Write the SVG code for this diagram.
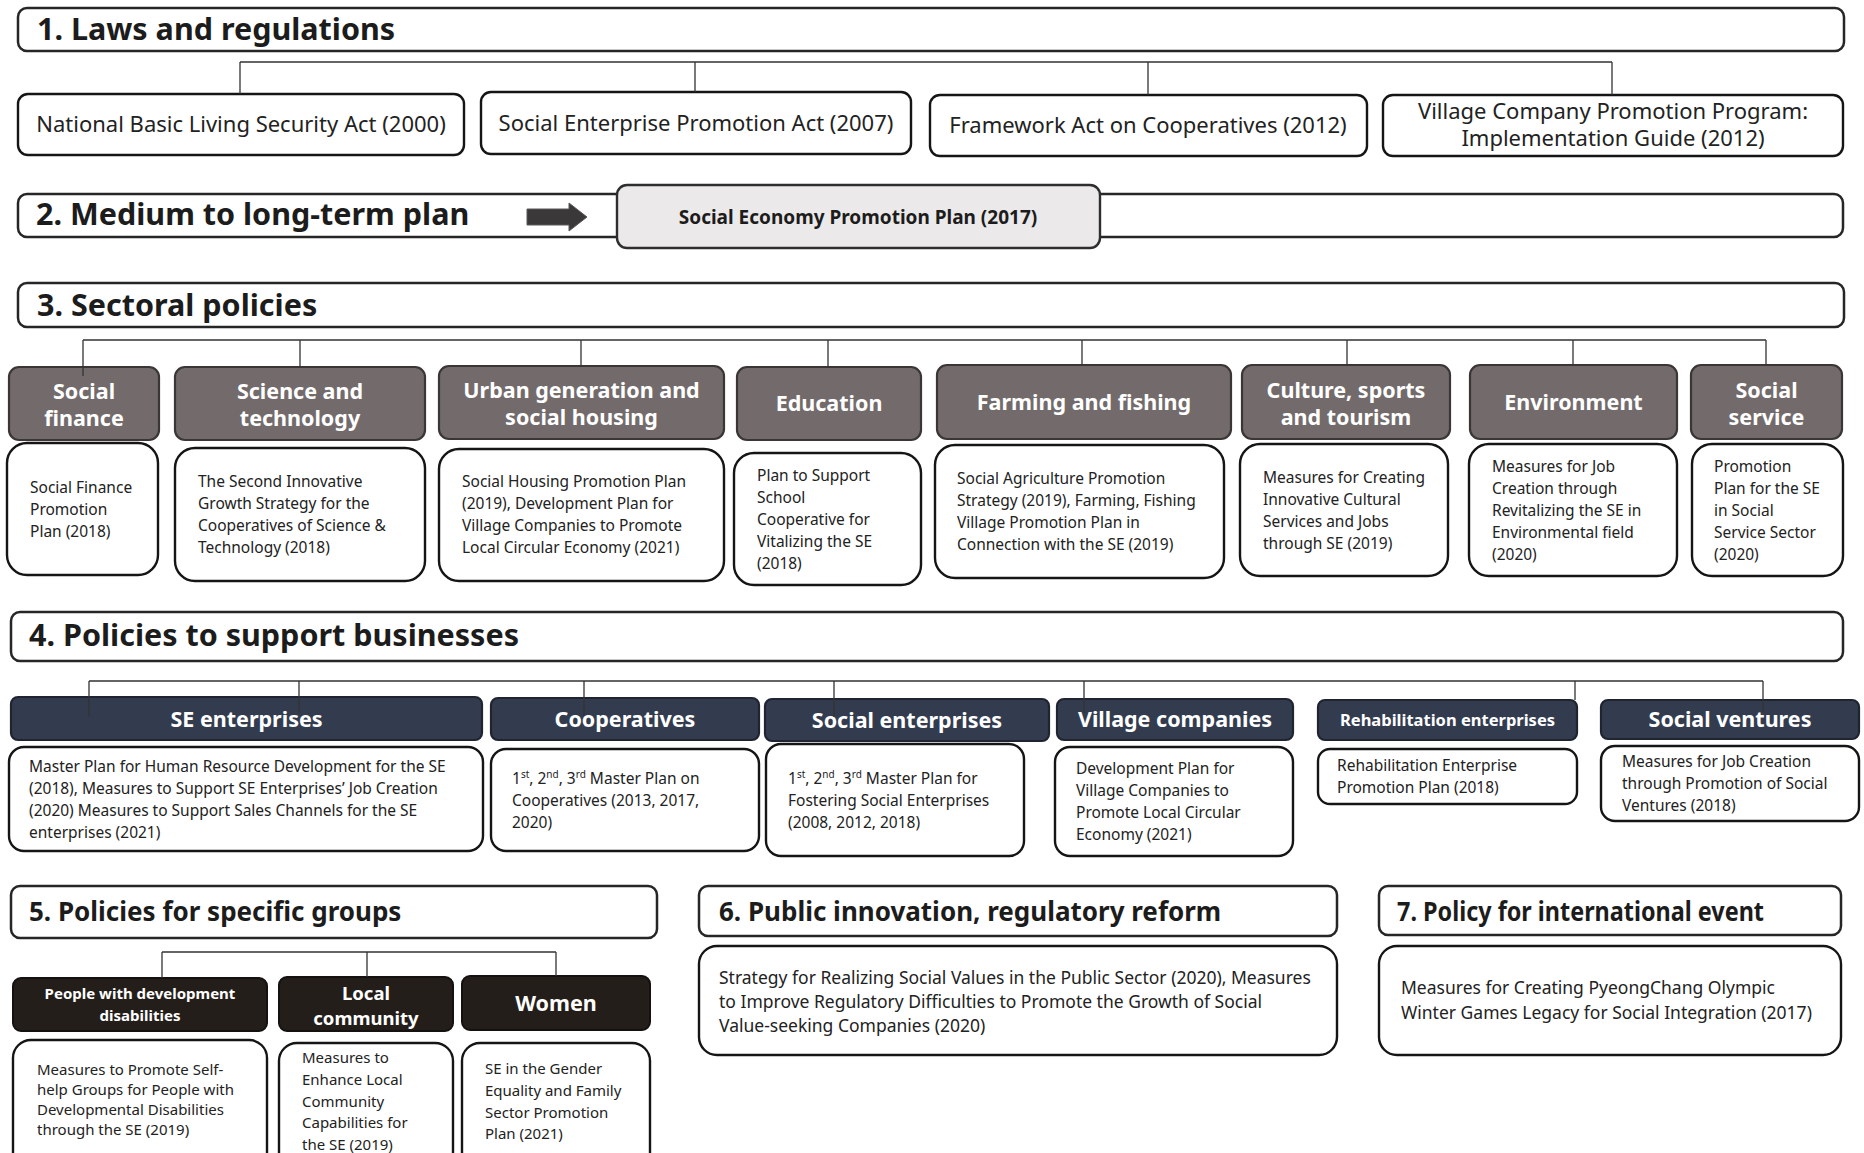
<svg xmlns="http://www.w3.org/2000/svg" width="1864" height="1153" viewBox="0 0 1864 1153">
  <style>
    text { font-family: "Noto Sans", "Open Sans", sans-serif; fill: #1c1c1c; }
    .sec { fill: #fff; stroke: #262626; stroke-width: 2.5; }
    .box { fill: #fff; stroke: #151515; stroke-width: 2.4; }
    .gray { fill: #736b6b; stroke: #3b3636; stroke-width: 2.2; }
    .navy { fill: #333c4f; stroke: #1f2430; stroke-width: 2.2; }
    .dark { fill: #241e1a; stroke: #141110; stroke-width: 2; }
    .plan { fill: #ebe9e9; stroke: #2e2e2e; stroke-width: 2.4; }
    .ttl { font-size: 30.5px; font-weight: 700; }
    .ttl2 { font-size: 26px; font-weight: 700; }
    .law { font-size: 22px; text-anchor: middle; fill: #222; }
    .hd { font-size: 21.5px; font-weight: 700; fill: #fff; text-anchor: middle; }
    .hd-s { font-size: 16.5px; }
    .hd-xs { font-size: 15px; }
    .hd-m { font-size: 18.5px; }
    .tx { font-size: 15.5px; fill: #222; }
    .tx5 { font-size: 15px; fill: #222; }
    .tx6 { font-size: 17.5px; fill: #222; }
    .ln { fill: none; stroke: #333; stroke-width: 1.3; }
  </style>

  <!-- 1. Laws and regulations -->
  <g id="sec1">
    <rect class="sec" x="18" y="8" width="1826" height="43" rx="9"/>
    <text class="ttl" x="37" y="40">1. Laws and regulations</text>
  </g>
  <g id="law-basic-living">
    <rect class="box" x="18" y="94" width="446" height="61" rx="10"/>
    <text class="law" x="241" y="132">National Basic Living Security Act (2000)</text>
  </g>
  <g id="law-social-enterprise">
    <rect class="box" x="481" y="92" width="430" height="62" rx="10"/>
    <text class="law" x="696" y="131">Social Enterprise Promotion Act (2007)</text>
  </g>
  <g id="law-cooperatives">
    <rect class="box" x="930" y="95" width="437" height="61" rx="10"/>
    <text class="law" x="1148" y="133">Framework Act on Cooperatives (2012)</text>
  </g>
  <g id="law-village-company">
    <rect class="box" x="1383" y="95" width="460" height="61" rx="10"/>
    <text class="law" x="1613" y="119">Village Company Promotion Program:</text>
    <text class="law" x="1613" y="146">Implementation Guide (2012)</text>
  </g>

  <!-- 2. Medium to long-term plan -->
  <g id="sec2">
    <rect class="sec" x="18" y="194" width="1825" height="43" rx="9"/>
    <text class="ttl" x="36" y="225">2. Medium to long-term plan</text>
    <path d="M527 209 H569 V203 L587 217 L569 231 V225 H527 Z" fill="#3a3838" stroke="#5a5858" stroke-width="1"/>
  </g>
  <g id="plan-2017">
    <rect class="plan" x="617" y="185" width="483" height="63" rx="10"/>
    <text x="858" y="224" font-size="19" font-weight="700" text-anchor="middle">Social Economy Promotion Plan (2017)</text>
  </g>

  <!-- 3. Sectoral policies -->
  <g id="sec3">
    <rect class="sec" x="18" y="283" width="1826" height="44" rx="9"/>
    <text class="ttl" x="37" y="316">3. Sectoral policies</text>
  </g>
  <g id="sector-social-finance">
    <rect class="gray" x="9" y="367" width="150" height="73" rx="10"/>
    <text class="hd" x="84" y="399">Social</text>
    <text class="hd" x="84" y="426">finance</text>
    <rect class="box" x="7" y="443" width="151" height="132" rx="20"/>
    <text class="tx" x="30" y="493">Social Finance</text>
    <text class="tx" x="30" y="515">Promotion</text>
    <text class="tx" x="30" y="537">Plan (2018)</text>
  </g>
  <g id="sector-science">
    <rect class="gray" x="175" y="367" width="250" height="73" rx="10"/>
    <text class="hd" x="300" y="399">Science and</text>
    <text class="hd" x="300" y="426">technology</text>
    <rect class="box" x="175" y="448" width="250" height="133" rx="20"/>
    <text class="tx" x="198" y="487">The Second Innovative</text>
    <text class="tx" x="198" y="509">Growth Strategy for the</text>
    <text class="tx" x="198" y="531">Cooperatives of Science &amp;</text>
    <text class="tx" x="198" y="553">Technology (2018)</text>
  </g>
  <g id="sector-urban">
    <rect class="gray" x="439" y="366" width="285" height="73" rx="10"/>
    <text class="hd" x="581.5" y="398">Urban generation and</text>
    <text class="hd" x="581.5" y="425">social housing</text>
    <rect class="box" x="439" y="449" width="285" height="132" rx="20"/>
    <text class="tx" x="462" y="487">Social Housing Promotion Plan</text>
    <text class="tx" x="462" y="509">(2019), Development Plan for</text>
    <text class="tx" x="462" y="531">Village Companies to Promote</text>
    <text class="tx" x="462" y="553">Local Circular Economy (2021)</text>
  </g>
  <g id="sector-education">
    <rect class="gray" x="737" y="367" width="184" height="73" rx="10"/>
    <text class="hd" x="829" y="411">Education</text>
    <rect class="box" x="734" y="453" width="187" height="132" rx="20"/>
    <text class="tx" x="757" y="481">Plan to Support</text>
    <text class="tx" x="757" y="503">School</text>
    <text class="tx" x="757" y="525">Cooperative for</text>
    <text class="tx" x="757" y="547">Vitalizing the SE</text>
    <text class="tx" x="757" y="569">(2018)</text>
  </g>
  <g id="sector-farming">
    <rect class="gray" x="937" y="365" width="294" height="74" rx="10"/>
    <text class="hd" x="1084" y="410">Farming and fishing</text>
    <rect class="box" x="935" y="445" width="289" height="133" rx="20"/>
    <text class="tx" x="957" y="484">Social Agriculture Promotion</text>
    <text class="tx" x="957" y="506">Strategy (2019), Farming, Fishing</text>
    <text class="tx" x="957" y="528">Village Promotion Plan in</text>
    <text class="tx" x="957" y="550">Connection with the SE (2019)</text>
  </g>
  <g id="sector-culture">
    <rect class="gray" x="1242" y="365" width="208" height="74" rx="10"/>
    <text class="hd" x="1346" y="398">Culture, sports</text>
    <text class="hd" x="1346" y="425">and tourism</text>
    <rect class="box" x="1240" y="444" width="208" height="132" rx="20"/>
    <text class="tx" x="1263" y="483">Measures for Creating</text>
    <text class="tx" x="1263" y="505">Innovative Cultural</text>
    <text class="tx" x="1263" y="527">Services and Jobs</text>
    <text class="tx" x="1263" y="549">through SE (2019)</text>
  </g>
  <g id="sector-environment">
    <rect class="gray" x="1470" y="365" width="207" height="74" rx="10"/>
    <text class="hd" x="1573.5" y="410">Environment</text>
    <rect class="box" x="1469" y="444" width="208" height="132" rx="20"/>
    <text class="tx" x="1492" y="472">Measures for Job</text>
    <text class="tx" x="1492" y="494">Creation through</text>
    <text class="tx" x="1492" y="516">Revitalizing the SE in</text>
    <text class="tx" x="1492" y="538">Environmental field</text>
    <text class="tx" x="1492" y="560">(2020)</text>
  </g>
  <g id="sector-social-service">
    <rect class="gray" x="1691" y="365" width="151" height="74" rx="10"/>
    <text class="hd" x="1766.5" y="398">Social</text>
    <text class="hd" x="1766.5" y="425">service</text>
    <rect class="box" x="1692" y="444" width="151" height="132" rx="20"/>
    <text class="tx" x="1714" y="472">Promotion</text>
    <text class="tx" x="1714" y="494">Plan for the SE</text>
    <text class="tx" x="1714" y="516">in Social</text>
    <text class="tx" x="1714" y="538">Service Sector</text>
    <text class="tx" x="1714" y="560">(2020)</text>
  </g>

  <!-- 4. Policies to support businesses -->
  <g id="sec4">
    <rect class="sec" x="11" y="612" width="1832" height="49" rx="9"/>
    <text class="ttl" x="29" y="646">4. Policies to support businesses</text>
  </g>
  <g id="biz-se-enterprises">
    <rect class="navy" x="11" y="697" width="471" height="43" rx="7"/>
    <text class="hd" x="246.5" y="727">SE enterprises</text>
    <rect class="box" x="9" y="747" width="474" height="104" rx="15"/>
    <text class="tx" x="29" y="772">Master Plan for Human Resource Development for the SE</text>
    <text class="tx" x="29" y="794">(2018), Measures to Support SE Enterprises’ Job Creation</text>
    <text class="tx" x="29" y="816">(2020) Measures to Support Sales Channels for the SE</text>
    <text class="tx" x="29" y="838">enterprises (2021)</text>
  </g>
  <g id="biz-cooperatives">
    <rect class="navy" x="491" y="698" width="268" height="42" rx="7"/>
    <text class="hd" x="625" y="727">Cooperatives</text>
    <rect class="box" x="491" y="749" width="268" height="102" rx="15"/>
    <text class="tx" x="512" y="784">1<tspan font-size="10" dy="-6">st</tspan><tspan dy="6">, 2</tspan><tspan font-size="10" dy="-6">nd</tspan><tspan dy="6">, 3</tspan><tspan font-size="10" dy="-6">rd</tspan><tspan dy="6"> Master Plan on</tspan></text>
    <text class="tx" x="512" y="806">Cooperatives (2013, 2017,</text>
    <text class="tx" x="512" y="828">2020)</text>
  </g>
  <g id="biz-social-enterprises">
    <rect class="navy" x="765" y="699" width="284" height="42" rx="7"/>
    <text class="hd" x="907" y="728">Social enterprises</text>
    <rect class="box" x="766" y="744" width="258" height="112" rx="15"/>
    <text class="tx" x="788" y="784">1<tspan font-size="10" dy="-6">st</tspan><tspan dy="6">, 2</tspan><tspan font-size="10" dy="-6">nd</tspan><tspan dy="6">, 3</tspan><tspan font-size="10" dy="-6">rd</tspan><tspan dy="6"> Master Plan for</tspan></text>
    <text class="tx" x="788" y="806">Fostering Social Enterprises</text>
    <text class="tx" x="788" y="828">(2008, 2012, 2018)</text>
  </g>
  <g id="biz-village-companies">
    <rect class="navy" x="1057" y="699" width="236" height="41" rx="7"/>
    <text class="hd" x="1175" y="727">Village companies</text>
    <rect class="box" x="1055" y="747" width="238" height="109" rx="15"/>
    <text class="tx" x="1076" y="774">Development Plan for</text>
    <text class="tx" x="1076" y="796">Village Companies to</text>
    <text class="tx" x="1076" y="818">Promote Local Circular</text>
    <text class="tx" x="1076" y="840">Economy (2021)</text>
  </g>
  <g id="biz-rehabilitation">
    <rect class="navy" x="1318" y="700" width="259" height="40" rx="7"/>
    <text class="hd hd-s" x="1447.5" y="726">Rehabilitation enterprises</text>
    <rect class="box" x="1318" y="749" width="259" height="55" rx="12"/>
    <text class="tx" x="1337" y="771">Rehabilitation Enterprise</text>
    <text class="tx" x="1337" y="793">Promotion Plan (2018)</text>
  </g>
  <g id="biz-social-ventures">
    <rect class="navy" x="1601" y="700" width="258" height="39" rx="7"/>
    <text class="hd" x="1730" y="727">Social ventures</text>
    <rect class="box" x="1601" y="746" width="258" height="75" rx="14"/>
    <text class="tx" x="1622" y="767">Measures for Job Creation</text>
    <text class="tx" x="1622" y="789">through Promotion of Social</text>
    <text class="tx" x="1622" y="811">Ventures (2018)</text>
  </g>

  <!-- 5. Policies for specific groups -->
  <g id="sec5">
    <rect class="sec" x="11" y="886" width="646" height="52" rx="9"/>
    <text class="ttl2" x="29" y="921">5. Policies for specific groups</text>
  </g>
  <g id="group-disabilities">
    <rect class="dark" x="13" y="978" width="254" height="53" rx="8"/>
    <text class="hd hd-xs" x="140" y="999">People with development</text>
    <text class="hd hd-xs" x="140" y="1021">disabilities</text>
    <rect class="box" x="13" y="1040" width="254" height="140" rx="18"/>
    <text class="tx5" x="37" y="1075">Measures to Promote Self-</text>
    <text class="tx5" x="37" y="1095">help Groups for People with</text>
    <text class="tx5" x="37" y="1115">Developmental Disabilities</text>
    <text class="tx5" x="37" y="1135">through the SE (2019)</text>
  </g>
  <g id="group-local-community">
    <rect class="dark" x="279" y="977" width="174" height="54" rx="8"/>
    <text class="hd hd-m" x="366" y="1000">Local</text>
    <text class="hd hd-m" x="366" y="1025">community</text>
    <rect class="box" x="279" y="1043" width="174" height="140" rx="18"/>
    <text class="tx5" x="302" y="1063">Measures to</text>
    <text class="tx5" x="302" y="1085">Enhance Local</text>
    <text class="tx5" x="302" y="1107">Community</text>
    <text class="tx5" x="302" y="1128">Capabilities for</text>
    <text class="tx5" x="302" y="1150">the SE (2019)</text>
  </g>
  <g id="group-women">
    <rect class="dark" x="462" y="976" width="188" height="54" rx="8"/>
    <text class="hd" x="556" y="1011">Women</text>
    <rect class="box" x="462" y="1043" width="188" height="140" rx="18"/>
    <text class="tx5" x="485" y="1074">SE in the Gender</text>
    <text class="tx5" x="485" y="1096">Equality and Family</text>
    <text class="tx5" x="485" y="1118">Sector Promotion</text>
    <text class="tx5" x="485" y="1139">Plan (2021)</text>
  </g>

  <!-- 6. Public innovation, regulatory reform -->
  <g id="sec6">
    <rect class="sec" x="699" y="886" width="638" height="50" rx="9"/>
    <text class="ttl2" x="719" y="921">6. Public innovation, regulatory reform</text>
    <rect class="box" x="699" y="946" width="638" height="109" rx="18"/>
    <text class="tx6" x="719" y="984">Strategy for Realizing Social Values in the Public Sector (2020), Measures</text>
    <text class="tx6" x="719" y="1008">to Improve Regulatory Difficulties to Promote the Growth of Social</text>
    <text class="tx6" x="719" y="1032">Value-seeking Companies (2020)</text>
  </g>

  <!-- 7. Policy for international event -->
  <g id="sec7">
    <rect class="sec" x="1379" y="886" width="462" height="49" rx="9"/>
    <text class="ttl2" x="1397" y="921" textLength="367" lengthAdjust="spacingAndGlyphs">7. Policy for international event</text>
    <rect class="box" x="1379" y="946" width="462" height="109" rx="18"/>
    <text class="tx6" x="1401" y="994">Measures for Creating PyeongChang Olympic</text>
    <text class="tx6" x="1401" y="1019">Winter Games Legacy for Social Integration (2017)</text>
  </g>

  <!-- connector trees -->
  <g id="connectors" class="ln">
    <path d="M240 62 H1612 M240 62 V94 M695 62 V92 M1148 62 V95 M1612 62 V95"/>
    <path d="M83 340 H1766 M83 340 V376 M300 340 V367 M581 340 V366 M828 340 V367 M1082 340 V365 M1347 340 V365 M1573 340 V365 M1766 340 V365"/>
    <path d="M89 681 H1763 M89 681 V717 M299 681 V713 M584 681 V716 M834 681 V717 M1084 681 V713 M1575 681 V700 M1763 681 V712"/>
    <path d="M162 952 H556 M162 952 V978 M367 952 V977 M556 952 V976"/>
  </g>
</svg>
